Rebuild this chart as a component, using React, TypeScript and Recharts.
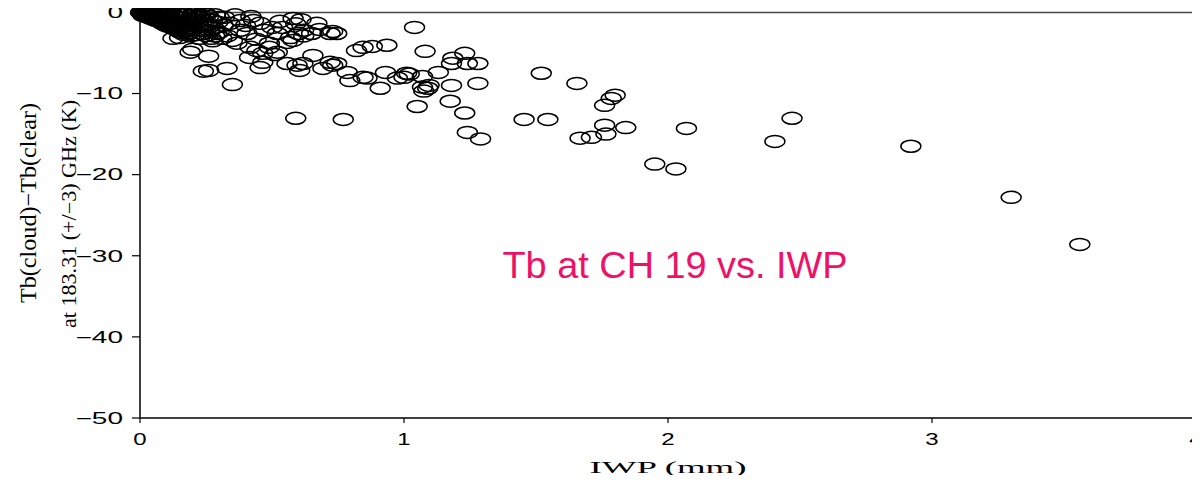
import React from "react";
import { ScatterChart, Scatter, XAxis, YAxis, ReferenceLine } from "recharts";

const xTicks = [0, 1, 2, 3, 4];
const yTicks = [0, -10, -20, -30, -40, -50];

const yLabelLine1 = "Tb(cloud)\u2212Tb(clear)";
const yLabelLine2 = "at 183.31 (+/\u22123) GHz (K)";
const xLabel = "IWP (mm)";
const annotation = "Tb at CH 19 vs. IWP";

// [IWP (mm), Tb difference (K)]
const denseCluster: [number, number][] = [
  [0.002, 0.0], [0.005, -0.05], [0.008, -0.12], [0.01, 0.03], [0.012, -0.18], [0.015, -0.05],
  [0.018, -0.25], [0.02, -0.1], [0.022, -0.32], [0.025, 0.02], [0.028, -0.22], [0.03, -0.42],
  [0.032, -0.12], [0.035, -0.36], [0.038, -0.04], [0.04, -0.52], [0.042, -0.2], [0.045, -0.6],
  [0.048, -0.3], [0.05, -0.08], [0.052, -0.72], [0.055, -0.45], [0.058, -0.18], [0.06, -0.82],
  [0.062, -0.55], [0.065, -0.3], [0.068, -0.04], [0.07, -0.92], [0.072, -0.66], [0.075, -0.4],
  [0.078, -0.14], [0.08, -1.02], [0.082, -0.76], [0.085, -0.5], [0.088, -0.24], [0.09, -1.18],
  [0.092, -0.9], [0.095, -0.6], [0.098, -0.08], [0.1, -1.35], [0.103, -1.02], [0.106, -0.72],
  [0.11, -0.35], [0.113, -1.6], [0.116, -1.2], [0.12, -0.82], [0.123, -0.18], [0.126, -1.9],
  [0.13, -1.42], [0.133, -0.95], [0.136, -0.5], [0.14, -2.2], [0.143, -1.62], [0.146, -1.1],
  [0.15, -0.28], [0.153, -2.45], [0.156, -1.82], [0.16, -0.7], [0.163, -1.3], [0.166, -2.7],
  [0.17, -0.12], [0.173, -2.0], [0.176, -1.0], [0.18, -2.55], [0.183, -0.48], [0.186, -1.5],
  [0.19, -2.9], [0.194, -0.8], [0.198, -2.1], [0.2, -0.18], [0.205, -1.2], [0.21, -2.75],
  [0.215, -0.58], [0.22, -1.7], [0.225, -3.2], [0.23, -0.3], [0.235, -2.2], [0.24, -1.0],
  [0.245, -0.1], [0.25, -2.85], [0.255, -1.5], [0.26, -0.5], [0.265, -2.3], [0.27, -0.9],
  [0.275, -3.5], [0.28, -1.9], [0.285, -0.3], [0.29, -2.6], [0.295, -1.2], [0.3, -0.6],
  [0.012, -0.4], [0.027, -0.55], [0.043, -0.75], [0.057, -0.95], [0.073, -1.15], [0.087, -1.4],
  [0.101, -1.65], [0.118, -1.85], [0.134, -2.05], [0.148, -2.3], [0.168, -1.7], [0.182, -2.2],
  [0.112, 0.05], [0.138, 0.02], [0.158, -0.05], [0.178, 0.04], [0.196, -0.4], [0.212, -0.08],
  [0.232, -1.4], [0.252, -0.25], [0.268, -1.7], [0.283, -2.9],
  [0.016, -0.3], [0.033, -0.28], [0.047, -0.45], [0.063, -0.7], [0.077, -0.85], [0.094, -1.05],
  [0.108, -1.3], [0.122, -1.5], [0.137, -1.75], [0.152, -1.95], [0.171, -2.35], [0.188, -2.6],
  [0.128, -0.35], [0.145, -0.6], [0.162, -0.3], [0.192, -1.2], [0.208, -0.9], [0.222, -0.45],
];

const midCluster: [number, number][] = [
  [0.35, -8.9], [0.26, -7.15], [0.24, -7.25], [0.33, -6.9], [0.2, -4.55], [0.26, -5.4],
  [0.19, -4.9], [0.125, -3.2], [0.15, -3.1], [0.455, -6.8], [0.465, -6.15], [0.557, -6.3],
  [0.595, -6.5], [0.605, -7.15], [0.617, -6.3], [0.655, -5.3], [0.693, -6.9], [0.73, -6.5],
  [0.72, -6.15], [0.745, -6.3], [0.795, -8.4], [0.785, -7.4], [0.845, -8.0], [0.86, -8.1],
  [0.91, -9.35], [0.93, -7.4], [0.975, -8.1], [1.02, -7.6], [1.07, -9.2], [0.82, -4.7],
  [0.845, -4.3], [0.88, -4.2], [0.935, -4.05], [0.58, -0.75], [0.67, -1.35], [0.54, -1.85],
  [0.62, -2.2], [0.73, -2.35], [0.72, -2.6], [0.65, -2.6], [0.57, -3.1], [0.58, -3.45],
  [0.52, -2.6], [0.5, -1.85], [0.415, -5.55], [0.465, -5.05], [0.52, -4.9], [0.443, -4.7],
  [0.417, -4.3], [0.49, -4.3], [0.557, -3.7], [0.38, -1.0], [0.43, -1.0], [0.455, -1.35],
  [0.34, -1.35], [0.38, -2.2], [0.405, -2.6], [0.3, -2.45], [0.315, -1.6], [0.275, -1.0],
  [0.227, -0.6], [0.235, -2.6], [0.27, -3.2], [0.31, -3.2], [0.35, -3.45], [0.367, -3.8],
  [0.49, -3.8], [0.51, -5.2], [0.6, -2.6], [0.62, -2.9], [0.745, -2.6], [0.59, -1.4],
  [0.61, -0.9], [0.33, -2.9], [0.44, -3.3], [0.47, -2.2], [0.4, -1.6], [0.32, -0.6],
  [0.36, -0.3], [0.42, -0.5], [0.53, -1.1], [0.68, -2.1],
];

const sparsePoints: [number, number][] = [
  [1.95, -18.7], [2.03, -19.3], [2.405, -15.9], [2.47, -13.05], [2.07, -14.3], [2.92, -16.5],
  [3.3, -22.8], [3.56, -28.6], [1.76, -13.9], [1.84, -14.2], [1.765, -15.0], [1.71, -15.4],
  [1.667, -15.5], [1.8, -10.2], [1.785, -10.6], [1.76, -11.45], [1.655, -8.75], [1.52, -7.5],
  [1.455, -13.2], [1.545, -13.2], [1.23, -12.4], [1.24, -14.8], [1.29, -15.6], [0.59, -13.05],
  [0.77, -13.2], [1.04, -1.85], [1.08, -4.8], [1.23, -5.05], [1.185, -5.65], [1.18, -6.3],
  [1.24, -6.3], [1.28, -6.3], [1.13, -7.4], [1.01, -7.5], [1.07, -7.9], [1.0, -8.0],
  [1.095, -9.0], [1.09, -9.35], [1.075, -9.7], [1.18, -9.0], [1.28, -8.75], [1.05, -11.6],
  [1.175, -10.95],
];

const allPoints = [...denseCluster, ...midCluster, ...sparsePoints].map(([iwp, tb]) => ({ iwp, tb }));

const Ring = (props: any) => (
  <ellipse cx={props.cx} cy={props.cy} rx={10} ry={6} fill="none" stroke="#000" strokeWidth={1.5} />
);

const YTick = (props: any) => {
  const { x, y, payload } = props;
  const v = payload.value;
  const label = v === 0 ? "0" : "\u2212" + Math.abs(v);
  return (
    <g transform={`translate(${x},${y})`}>
      <text transform="scale(1.75,1)" textAnchor="end" dy="0.36em" fontFamily="'Liberation Sans', Arial, sans-serif" fontSize={16} fill="#000">
        {label}
      </text>
    </g>
  );
};

const XTick = (props: any) => {
  const { x, y, payload } = props;
  return (
    <g transform={`translate(${x},${y})`}>
      <text transform="scale(1.5,1)" textAnchor="middle" dy="0.71em" fontFamily="'Liberation Sans', Arial, sans-serif" fontSize={16} fill="#000">
        {String(payload.value)}
      </text>
    </g>
  );
};

const serif = "'Liberation Serif', 'DejaVu Serif', serif";

export default function App() {
  return (
    <div style={{ width: 1190, height: 475, marginBottom: -8 }}>
      <ScatterChart width={1190} height={475} margin={{ top: 4, right: 2, bottom: 8, left: 0 }}>
        <XAxis
          type="number"
          dataKey="iwp"
          domain={[0, 4]}
          ticks={xTicks}
          interval={0}
          height={57}
          axisLine={{ stroke: "#000", strokeWidth: 1.5 }}
          tickLine={{ stroke: "#000", strokeWidth: 1.2 }}
          tickSize={5}
          tickMargin={11}
          tick={<XTick />}
        />
        <YAxis
          type="number"
          dataKey="tb"
          domain={[-50, 0]}
          ticks={yTicks}
          interval={0}
          width={132}
          axisLine={{ stroke: "#000", strokeWidth: 1.5 }}
          tickLine={{ stroke: "#000", strokeWidth: 1.2 }}
          tickSize={8}
          tickMargin={9}
          tick={<YTick />}
        />
        <ReferenceLine y={0} stroke="#444" strokeWidth={1.5} />
        <ReferenceLine x={4} stroke="#000" strokeWidth={1.5} />
        <Scatter data={allPoints} shape={<Ring />} isAnimationActive={false} />
        <text transform="translate(20,195) rotate(-90)" textAnchor="middle" dominantBaseline="central" fontFamily={serif} fontSize={23} textLength={200} lengthAdjust="spacingAndGlyphs" fill="#000">
          {yLabelLine1}
        </text>
        <text transform="translate(61,206) rotate(-90)" textAnchor="middle" dominantBaseline="central" fontFamily={serif} fontSize={20} textLength={228} lengthAdjust="spacingAndGlyphs" fill="#000">
          {yLabelLine2}
        </text>
        <text x={660} y={459} textAnchor="middle" dominantBaseline="central" fontFamily={serif} fontSize={17} textLength={157} lengthAdjust="spacingAndGlyphs" fill="#000">
          {xLabel}
        </text>
        <text x={667} y={257} textAnchor="middle" dominantBaseline="central" fontFamily="'Liberation Sans', Arial, sans-serif" fontSize={36} textLength={345} lengthAdjust="spacingAndGlyphs" fill="#EE1166">
          {annotation}
        </text>
      </ScatterChart>
    </div>
  );
}
